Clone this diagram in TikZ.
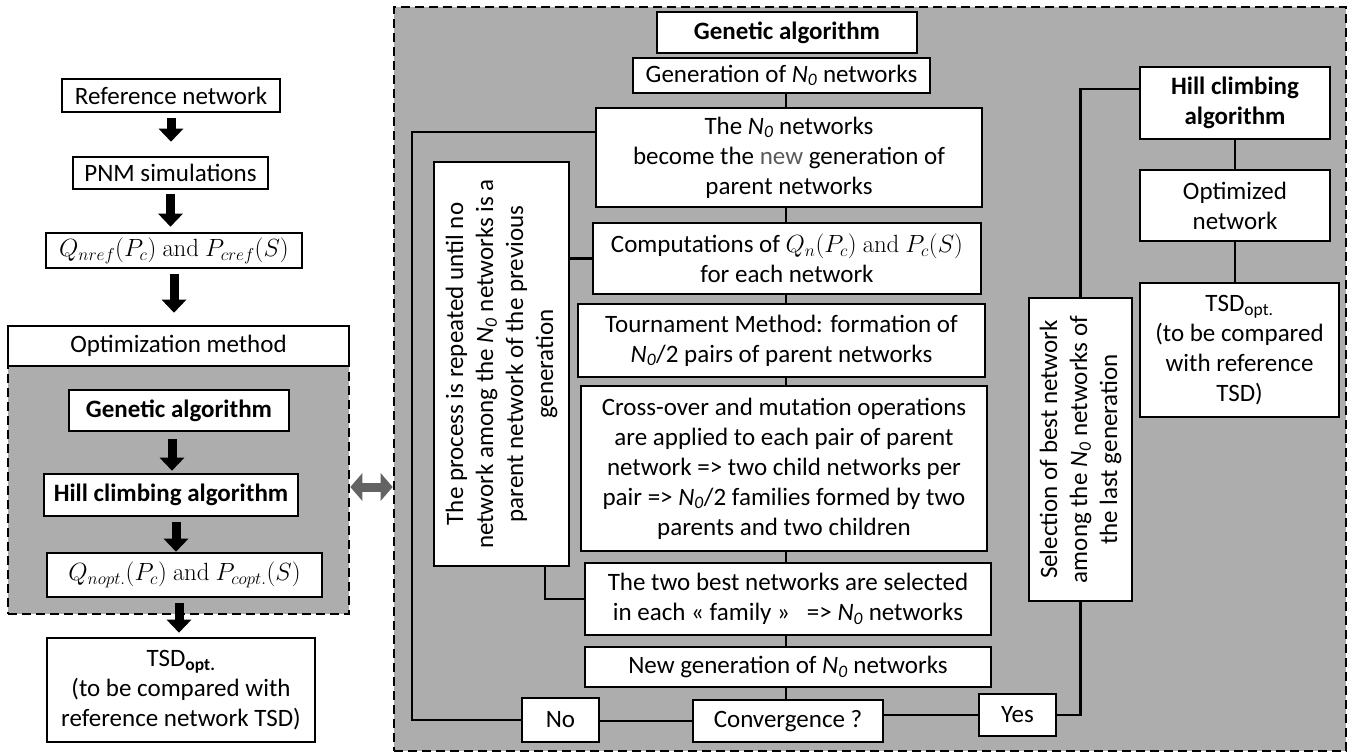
\documentclass[tikz,border=0pt]{standalone}
\usepackage[no-math]{fontspec}
\setmainfont{Carlito}
\usetikzlibrary{arrows.meta,calc}
\definecolor{bg}{HTML}{ADADAD}
\definecolor{newgray}{HTML}{5A5A5A}
\definecolor{dbl}{HTML}{636363}
\newcommand{\Nz}{\textit{N}\textsubscript{\textit{0}}}
\newcommand{\mand}{\ \mathrm{and}\ }
\tikzset{
  box/.style={draw, line width=2.6pt, fill=white, inner sep=0pt, align=center},
  dashbox/.style={draw, line width=2.6pt, fill=bg, dash pattern=on 9pt off 5pt, inner sep=0pt},
  conn/.style={draw, line width=2.3pt},
  mathfont/.style={font=\fontsize{26.5}{30}\selectfont},
  bigarrow/.style={line width=9pt, -{Triangle[width=24pt,length=13pt]}},
  dblarrow/.style={draw=dbl, line width=9pt, {Triangle[width=27pt,length=12pt]}-{Triangle[width=27pt,length=12pt]}}
}
\begin{document}
\begin{tikzpicture}[x=1pt,y=-1pt,font=\fontsize{25}{30}\selectfont]
\useasboundingbox (0,0) rectangle (1353,755);
% dashed containers
\node[dashbox, minimum width=341pt, minimum height=248pt] (leftdash) at (178.5,490) {};
\node[dashbox, minimum width=952pt, minimum height=744pt] (big) at (870,379) {};
% left column
\node[box, minimum width=218pt, minimum height=33pt] (ref) at (171,95.5) {Reference network};
\node[box, minimum width=195pt, minimum height=32pt] (pnm) at (170.5,173) {PNM simulations};
\node[box, mathfont, minimum width=256pt, minimum height=35pt] (qref) at (174,250.5) {$Q_{nref}(P_c)\mand P_{cref}(S)$};
\node[box, minimum width=341pt, minimum height=40pt] (opt) at (178.5,346) {Optimization method};
\node[box, minimum width=220pt, minimum height=41pt] (ga1) at (179,410.5) {\textbf{Genetic algorithm}};
\node[box, minimum width=254pt, minimum height=42pt] (hc1) at (171,495) {\textbf{Hill climbing algorithm}};
\node[box, mathfont, minimum width=275pt, minimum height=44pt] (qopt) at (184.5,575) {$Q_{nopt.}(P_c)\mand P_{copt.}(S)$};
\node[box, minimum width=268pt, minimum height=104pt] (tsd1) at (181,690) {TSD\textsubscript{\textbf{opt.}}\\(to be compared with\\reference network TSD)};
% left arrows
\draw[bigarrow, shorten <=5pt, shorten >=14pt] (ref.south) -- (ref.south |- pnm.north);
\draw[bigarrow, shorten <=4pt, shorten >=5pt] (pnm.south) -- (pnm.south |- qref.north);
\draw[bigarrow, shorten <=5pt, shorten >=12pt] (qref.south) -- (qref.south |- opt.north);
\coordinate (a4) at ([xshift=-7pt]ga1.south);
\coordinate (a5) at ([xshift=5pt]hc1.south);
\coordinate (a6) at ([xshift=-2pt]tsd1.north);
\draw[bigarrow, shorten <=7pt, shorten >=2pt] (a4) -- (a4 |- hc1.north);
\draw[bigarrow, shorten <=5pt, shorten >=0pt] (a5) -- (a5 |- qopt.north);
\draw[bigarrow, shorten <=5pt, shorten >=4pt] (a6 |- qopt.south) -- (a6);
% double arrow
\coordinate (da) at ([yshift=3pt]leftdash.east);
\draw[dblarrow] (da) -- (da -| big.west);
% center column
\node[box, minimum width=260pt, minimum height=41pt] (ga2) at (787,32.5) {\textbf{Genetic algorithm}};
\node[box, minimum width=297pt, minimum height=35pt] (gen) at (781.5,75.5) {Generation of \Nz\ networks};
\node[box, minimum width=386pt, minimum height=99pt] (n0) at (789,157.5) {The \Nz\ networks\\become the {\color{newgray}new} generation of\\parent networks};
\node[box, minimum width=388pt, minimum height=71pt] (comp) at (787,258.5) {Computations of {\fontsize{26.5}{30}\selectfont$Q_n(P_c)\mand P_c(S)$}\\for each network};
\node[box, minimum width=407pt, minimum height=73pt] (tour) at (781.5,340.5) {Tournament Method: formation of\\\Nz/2 pairs of parent networks};
\node[box, minimum width=406pt, minimum height=165pt] (cross) at (784,468.5) {Cross-over and mutation operations\\are applied to each pair of parent\\network => two child networks per\\pair => \Nz/2 families formed by two\\parents and two children};
\node[box, minimum width=406pt, minimum height=72pt] (best) at (788,599) {The two best networks are selected\\in each « family » \ \ => \Nz\ networks};
\node[box, minimum width=406pt, minimum height=40pt] (newgen) at (788,667) {New generation of \Nz\ networks};
\node[box, minimum width=190pt, minimum height=42pt] (conv) at (788,721) {Convergence ?};
\node[box, minimum width=77pt, minimum height=44pt] (no) at (560.5,720) {No};
\node[box, minimum width=77pt, minimum height=42pt] (yes) at (1017.5,715) {Yes};
\node[box, rotate=90, minimum width=404pt, minimum height=135pt] (loopbox) at (501.5,364) {The process is repeated until no\\network among the \Nz\ networks is a\\parent network of the previous\\generation};
% right column
\node[box, minimum width=190pt, minimum height=72pt] (hc2) at (1235,103) {\textbf{Hill climbing}\\\textbf{algorithm}};
\node[box, minimum width=190pt, minimum height=71pt] (optnet) at (1235,205.5) {Optimized\\network};
\node[box, minimum width=199pt, minimum height=134pt] (tsd2) at (1239.5,350) {TSD\textsubscript{opt.}\\(to be compared\\with reference\\TSD)};
\node[box, rotate=90, minimum width=303pt, minimum height=103pt] (sel) at (1080.5,449.5) {Selection of best network\\among the \Nz\ networks of\\the last generation};
% connectors
\coordinate (spine) at (786,0);
\coordinate (loopx) at (412,0);
\coordinate (n0in) at ([yshift=25.5pt]n0.west);
\coordinate (hcin) at ([yshift=14pt]hc2.west);
\coordinate (lbout) at ([xshift=43.5pt]loopbox.west);
\draw[conn] (spine |- gen.south) -- (spine |- n0.north);
\draw[conn] (spine |- n0.south) -- (spine |- comp.north);
\draw[conn] (spine |- comp.south) -- (spine |- tour.north);
\draw[conn] (spine |- tour.south) -- (spine |- cross.north);
\draw[conn] (spine |- cross.south) -- (spine |- best.north);
\draw[conn] (spine |- best.south) -- (spine |- newgen.north);
\draw[conn] (spine |- newgen.south) -- (spine |- conv.north);
\draw[conn] (no.west) -- (loopx |- no.west) -- (loopx |- n0in) -- (n0in);
\draw[conn] (loopbox.south |- comp.west) -- (comp.west);
\draw[conn] (lbout) -- (lbout |- best.west) -- (best.west);
\draw[conn] (conv.west) -- (no.east |- conv.west);
\draw[conn] (conv.east |- yes.west) -- (yes.west);
\draw[conn] (yes.east) -- (sel.west |- yes.east) -- (sel.west);
\draw[conn] (sel.east) -- (sel.east |- hcin) -- (hcin);
\draw[conn] (hc2.south) -- (optnet.north);
\draw[conn] (optnet.south) -- (optnet.south |- tsd2.north);
\end{tikzpicture}
\end{document}
